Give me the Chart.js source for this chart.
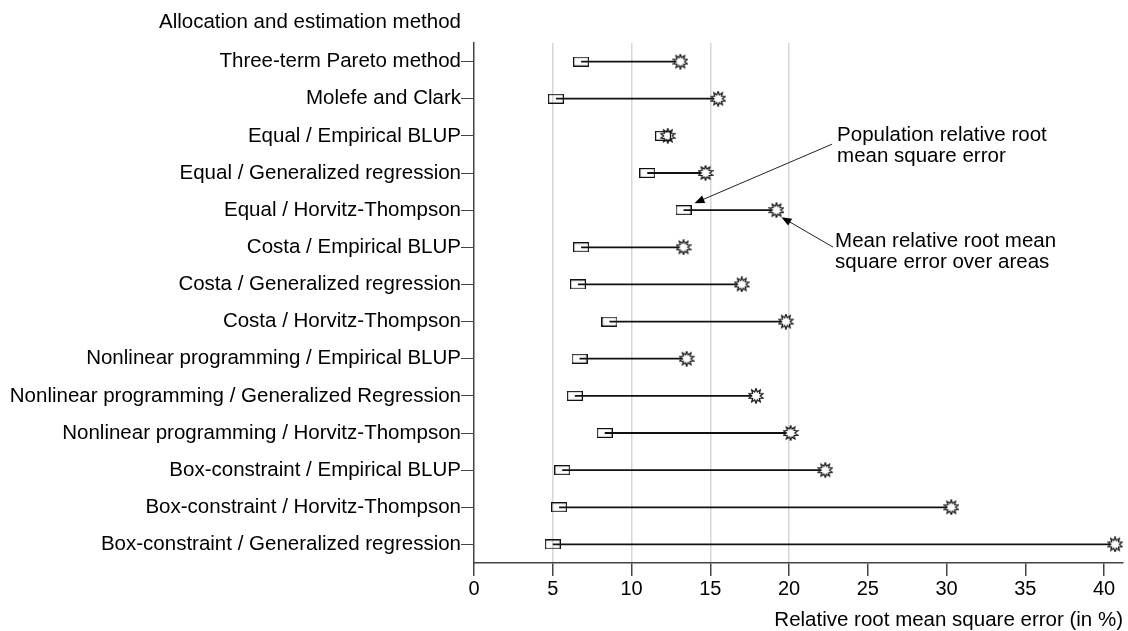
<!DOCTYPE html>
<html>
<head>
<meta charset="utf-8">
<script src="https://cdn.jsdelivr.net/npm/chart.js@4.4.1/dist/chart.umd.min.js"></script>
<style>
  body { margin: 0; background: #fff; }
</style>
</head>
<body>
<canvas id="grafica" width="1128" height="631"></canvas>
<script>
// categories, top to bottom
const categories = [
  'Three-term Pareto method',
  'Molefe and Clark',
  'Equal / Empirical BLUP',
  'Equal / Generalized regression',
  'Equal / Horvitz-Thompson',
  'Costa / Empirical BLUP',
  'Costa / Generalized regression',
  'Costa / Horvitz-Thompson',
  'Nonlinear programming / Empirical BLUP',
  'Nonlinear programming / Generalized Regression',
  'Nonlinear programming / Horvitz-Thompson',
  'Box-constraint / Empirical BLUP',
  'Box-constraint / Horvitz-Thompson',
  'Box-constraint / Generalized regression'
];
// population relative RMSE (box marker)
const popRRMSE = [6.8, 5.2, 12.0, 11.0, 13.3, 6.8, 6.6, 8.6, 6.7, 6.4, 8.3, 5.6, 5.4, 5.0];
// mean relative RMSE over areas (star marker)
const meanRRMSE = [13.1, 15.5, 12.3, 14.7, 19.2, 13.3, 17.0, 19.8, 13.5, 17.9, 20.1, 22.3, 30.3, 40.7];
const xTicks = [0, 5, 10, 15, 20, 25, 30, 35, 40];
const gridAt = [5, 10, 15, 20];

const FONT = '"Liberation Sans", Arial, sans-serif';

// marker shapes
function boxMarker(){
  const c = document.createElement('canvas');
  c.width = 16; c.height = 10;
  const g = c.getContext('2d');
  g.strokeStyle = '#111';
  g.lineWidth = 1.2;
  g.strokeRect(0.6, 0.6, 14.8, 8.8);
  return c;
}
function starMarker(){
  const c = document.createElement('canvas');
  c.width = 16; c.height = 16;
  const g = c.getContext('2d');
  const n = 10, ro = 7.3, ri = 4.2;
  g.beginPath();
  for (let i = 0; i < n * 2; i++) {
    const r = i % 2 ? ri : ro;
    const a = -Math.PI / 2 + i * Math.PI / n;
    const px = 8 + r * Math.cos(a), py = 8 + r * Math.sin(a);
    i ? g.lineTo(px, py) : g.moveTo(px, py);
  }
  g.closePath();
  g.fillStyle = '#fff';
  g.fill();
  g.strokeStyle = '#111';
  g.lineWidth = 1.2;
  g.stroke();
  return c;
}

// connector lines, one per row
const connectors = categories.map((cat, i) => ({
  type: 'scatter',
  data: [{x: popRRMSE[i], y: cat}, {x: meanRRMSE[i], y: cat}],
  showLine: true,
  borderColor: '#111',
  borderWidth: 1.8,
  pointRadius: 0,
  order: 2
}));

function arrow(ctx, x1, y1, x2, y2){
  const a = Math.atan2(y2 - y1, x2 - x1);
  ctx.beginPath();
  ctx.moveTo(x1, y1);
  ctx.lineTo(x2 - 6 * Math.cos(a), y2 - 6 * Math.sin(a));
  ctx.stroke();
  ctx.beginPath();
  ctx.moveTo(x2, y2);
  ctx.lineTo(x2 - 10 * Math.cos(a) + 4 * Math.sin(a), y2 - 10 * Math.sin(a) - 4 * Math.cos(a));
  ctx.lineTo(x2 - 10 * Math.cos(a) - 4 * Math.sin(a), y2 - 10 * Math.sin(a) + 4 * Math.cos(a));
  ctx.closePath();
  ctx.fill();
}

const notes = {
  id: 'notes',
  afterDraw(chart){
    const ctx = chart.ctx, sx = chart.scales.x, sy = chart.scales.y;
    ctx.save();
    ctx.fillStyle = '#000';
    ctx.strokeStyle = '#222';
    ctx.lineWidth = 1;
    ctx.font = '20.5px ' + FONT;
    ctx.textBaseline = 'middle';
    ctx.textAlign = 'left';
    ctx.fillText('Allocation and estimation method', 159, 22);

    const row = sy.getPixelForValue(4);
    const tx = sx.getPixelForValue(23.05);
    ctx.fillText('Population relative root', tx, row - 75);
    ctx.fillText('mean square error', tx, row - 54);
    ctx.fillText('Mean relative root mean', tx - 2, row + 31);
    ctx.fillText('square error over areas', tx - 2, row + 52);

    arrow(ctx, tx - 5, row - 66, sx.getPixelForValue(popRRMSE[4]) + 11, row - 7);
    arrow(ctx, tx - 4, row + 37, sx.getPixelForValue(meanRRMSE[4]) + 5, row + 7);
    ctx.restore();
  }
};

const graph = document.querySelector('#grafica');
new Chart(graph, {
  type: 'scatter',
  data: {
    datasets: [
      {
        label: 'Population relative root mean square error',
        data: categories.map((cat, i) => ({x: popRRMSE[i], y: cat})),
        pointStyle: boxMarker(),
        order: 0
      },
      {
        label: 'Mean relative root mean square error over areas',
        data: categories.map((cat, i) => ({x: meanRRMSE[i], y: cat})),
        pointStyle: starMarker(),
        order: 0
      }
    ].concat(connectors)
  },
  options: {
    responsive: false,
    animation: false,
    layout: { padding: { top: 43, right: 1, left: 0, bottom: 0 } },
    plugins: { legend: { display: false }, tooltip: { enabled: false } },
    scales: {
      x: {
        type: 'linear',
        min: 0,
        max: 41.2,
        afterBuildTicks: s => { s.ticks = xTicks.map(v => ({value: v})); },
        afterFit: s => { s.height = 68; },
        border: { color: '#444', width: 1.5 },
        grid: {
          color: c => gridAt.includes(c.tick && c.tick.value) ? '#d6d6d6' : 'rgba(0,0,0,0)',
          lineWidth: 1.5,
          tickColor: '#444',
          tickLength: 13,
          drawOnChartArea: true
        },
        ticks: { color: '#000', font: { family: FONT, size: 20 }, padding: 1, maxRotation: 0 },
        title: {
          display: true,
          text: 'Relative root mean square error (in %)',
          align: 'end',
          color: '#000',
          font: { family: FONT, size: 20.5, lineHeight: 1.0 },
          padding: { top: 4, bottom: 0 }
        }
      },
      y: {
        type: 'category',
        labels: categories,
        offset: true,
        afterFit: s => { s.width = 474; },
        border: { color: '#444', width: 1.5 },
        grid: { drawOnChartArea: false, tickColor: '#444', tickLength: 13 },
        ticks: { color: '#000', font: { family: FONT, size: 20.5 }, padding: 0 }
      }
    }
  },
  plugins: [notes]
});
</script>
</body>
</html>
